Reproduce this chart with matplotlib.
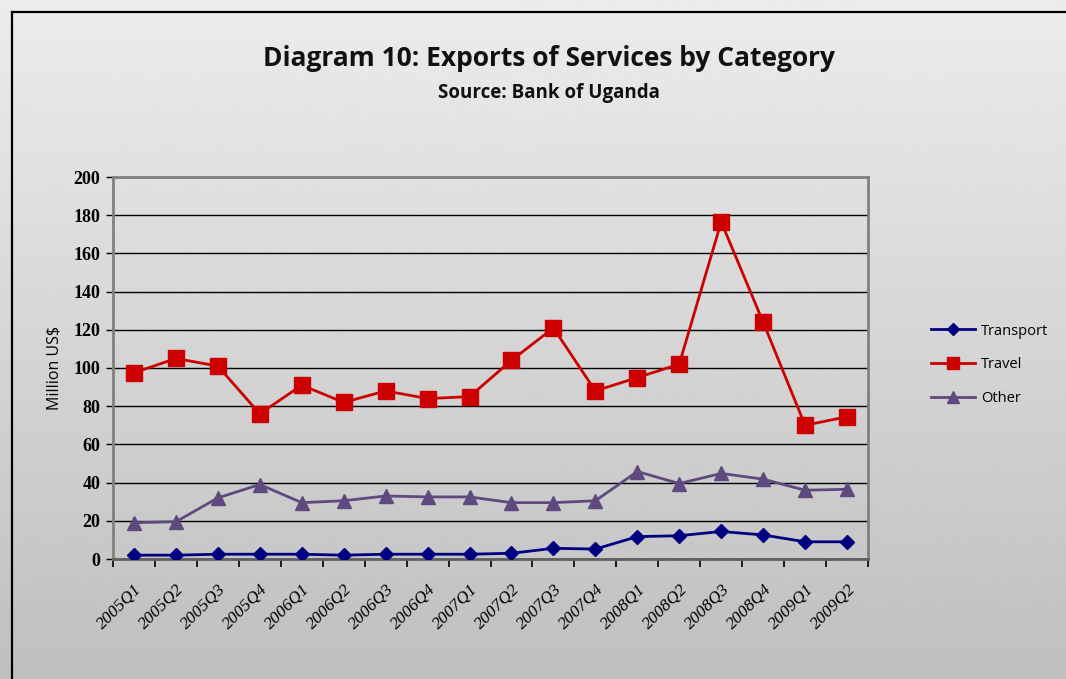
import matplotlib.pyplot as plt
import numpy as np
from matplotlib.lines import Line2D

quarters = ["2005Q1", "2005Q2", "2005Q3", "2005Q4", "2006Q1", "2006Q2", "2006Q3", "2006Q4",
            "2007Q1", "2007Q2", "2007Q3", "2007Q4", "2008Q1", "2008Q2", "2008Q3", "2008Q4",
            "2009Q1", "2009Q2"]
transport = [2.0, 2.0, 2.5, 2.5, 2.5, 2.0, 2.5, 2.5, 2.5, 3.0, 5.6, 5.2, 11.7, 12.2, 14.4, 12.6, 9.0, 9.0]
travel = [97.5, 105, 101, 76, 91, 82, 88, 84, 85, 104, 121, 88, 95, 102, 176.5, 124, 70, 74.5]
other = [19, 19.5, 32, 39, 29.5, 30.5, 33, 32.5, 32.5, 29.5, 29.5, 30.5, 45.8, 39.5, 44.8, 41.8, 36, 36.5]
yticks = np.arange(0, 201, 20)

W, H = 1066, 679
fig = plt.figure(figsize=(W / 100, H / 100), dpi=100)

# grey vertical gradient behind everything
bg = fig.add_axes([0, 0, 1, 1], zorder=-10)
grad = np.linspace(0.925, 0.75, 256).reshape(-1, 1)
bg.imshow(grad, aspect="auto", cmap="gray", vmin=0, vmax=1, extent=[0, 1, 0, 1])
bg.plot([12 / W, 12 / W], [0, 1 - 12 / H], color="black", lw=1.6)
bg.plot([12 / W, 1], [1 - 12 / H, 1 - 12 / H], color="black", lw=1.6)
bg.set_xlim(0, 1)
bg.set_ylim(0, 1)
bg.axis("off")

fig.text(549 / W, 1 - 58 / H, "Diagram 10: Exports of Services by Category",
         ha="center", va="center", fontsize=19, fontweight="bold", family="Open Sans", color="#111111")
fig.text(549 / W, 1 - 93 / H, "Source: Bank of Uganda",
         ha="center", va="center", fontsize=13.5, fontweight="bold", family="Open Sans", color="#111111")

ax = fig.add_axes([113 / W, 1 - 559 / H, (868 - 113) / W, (559 - 177) / H])
ax.set_facecolor("none")
x = np.arange(len(quarters))
ax.plot(x, transport, color="#000080", lw=2, marker="D", ms=7, zorder=5, label="Transport")
ax.plot(x, travel, color="#cc0000", lw=2, marker="s", ms=11, zorder=4, label="Travel")
ax.plot(x, other, color="#5f4a80", lw=2, marker="^", ms=10, zorder=3, label="Other")

ax.set_xlim(-0.5, len(quarters) - 0.5)
ax.set_ylim(0, 200)
ax.set_yticks(yticks)
ax.set_yticklabels([str(v) for v in yticks], family="Liberation Serif", fontsize=13, fontweight="bold")
ax.yaxis.grid(True, color="black", lw=1)
ax.set_axisbelow(True)

ax.set_xticks(np.arange(len(quarters) + 1) - 0.5)
ax.set_xticklabels([])
ax.set_xticks(x, minor=True)
ax.set_xticklabels(quarters, minor=True, rotation=45, ha="right", rotation_mode="anchor",
                   family="Liberation Serif", style="italic", fontsize=12.5)
ax.tick_params(axis="x", which="major", length=6, width=1.2, color="black", direction="out")
ax.tick_params(axis="x", which="minor", length=0, pad=16)
ax.tick_params(axis="y", length=5, width=1, color="black", pad=4)

for s in ["left", "right", "top"]:
    ax.spines[s].set_color("#808080")
    ax.spines[s].set_linewidth(2)
ax.spines["bottom"].set_color("#606060")
ax.spines["bottom"].set_linewidth(2)

ax.set_ylabel("Million US$", family="Open Sans", fontsize=11.5, labelpad=8)

handles = [Line2D([0], [0], color="#000080", lw=2, marker="D", ms=6),
           Line2D([0], [0], color="#cc0000", lw=2, marker="s", ms=8),
           Line2D([0], [0], color="#5f4a80", lw=2, marker="^", ms=8)]
fig.legend(handles, ["Transport", "Travel", "Other"], loc="center left",
           bbox_to_anchor=(918 / W, 1 - 365 / H), frameon=False, handlelength=3.0,
           handletextpad=0.4, labelspacing=1.3, prop={"family": "Open Sans", "size": 10.5})

fig.savefig("out.png", dpi=100)
